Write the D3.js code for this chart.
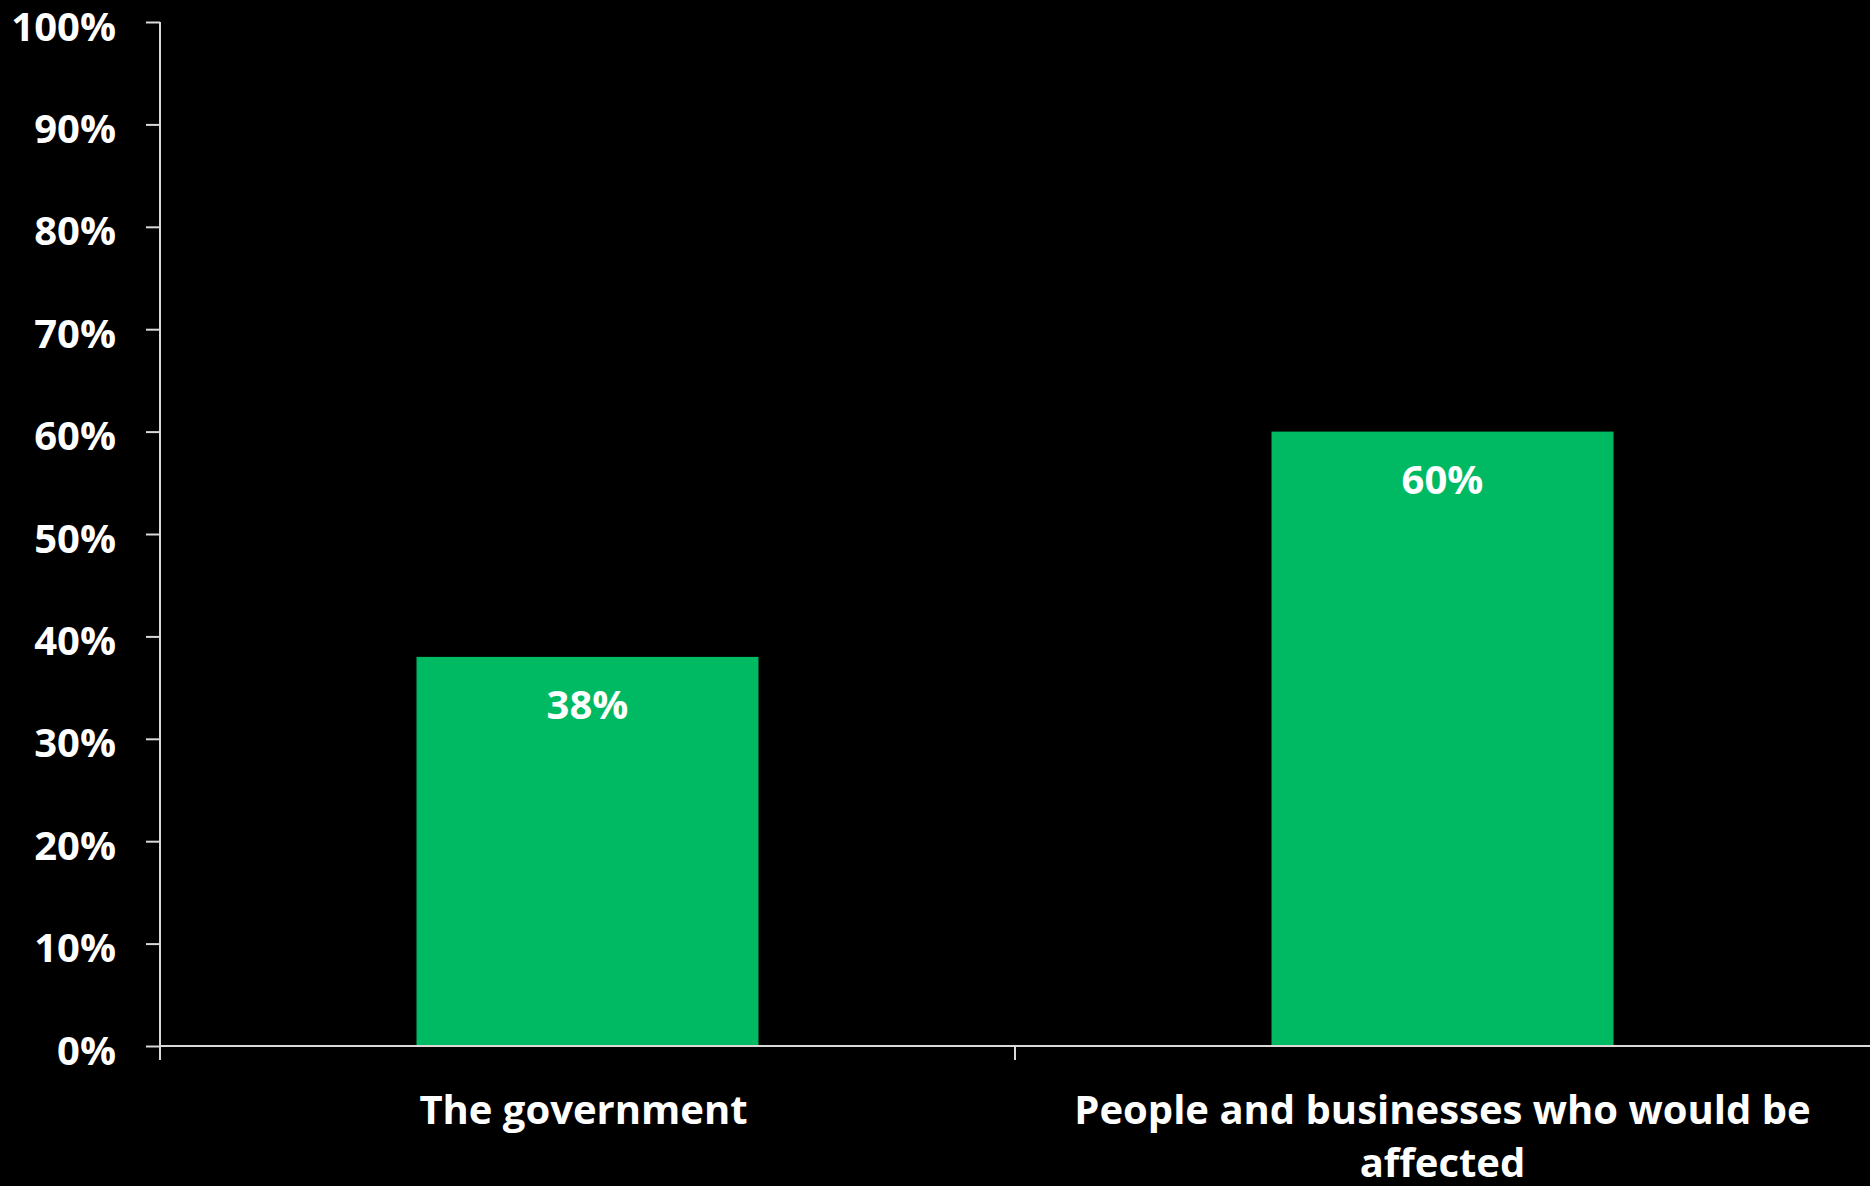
<!DOCTYPE html>
<html><head><meta charset="utf-8">
<script src="https://cdn.jsdelivr.net/npm/d3@7"></script>
<style>
html,body{margin:0;padding:0;background:#000;}
svg{display:block;}
text{font-family:"Open Sans",sans-serif;font-weight:700;fill:#fff;}
</style></head>
<body>
<script>
const categories = ["The government", "People and businesses who would be affected"];
const categoryLines = [["The government"], ["People and businesses who would be", "affected"]];
const values = [0.38, 0.60];
const yTicks = [0,0.1,0.2,0.3,0.4,0.5,0.6,0.7,0.8,0.9,1.0];

const W = 1870, H = 1186;
const m = {left:160, right:0, top:22, bottom:140};
const svg = d3.select("body").append("svg").attr("width",W).attr("height",H).style("background","#000");

const x = d3.scaleBand().domain(categories).range([m.left, W - m.right]).paddingInner(0.6).paddingOuter(0.3);
const y = d3.scaleLinear().domain([0,1]).range([H - m.bottom, m.top]);

// bars
svg.selectAll("rect.bar").data(categories).join("rect")
  .attr("class","bar")
  .attr("x", d => x(d)).attr("width", x.bandwidth())
  .attr("y", (d,i) => y(values[i])).attr("height", (d,i) => y(0) - y(values[i]))
  .attr("fill","#00BA63");

// value labels
svg.selectAll("text.val").data(categories).join("text")
  .attr("class","val")
  .attr("x", d => x(d) + x.bandwidth()/2)
  .attr("y", (d,i) => y(values[i]) + 62)
  .attr("text-anchor","middle")
  .style("font-size","40px")
  .text((d,i) => d3.format(".0%")(values[i]));

// y axis
const yAxis = d3.axisLeft(y).tickValues(yTicks).tickFormat(d3.format(".0%")).tickSize(14).tickPadding(30);
const gy = svg.append("g").attr("transform",`translate(${m.left},0)`).call(yAxis);
gy.select(".domain").remove();
gy.selectAll(".tick line").attr("stroke","#d9d9d9").attr("stroke-width",2);
gy.selectAll(".tick text").attr("fill","#fff").style("font-size","40px").style("font-family","'Open Sans',sans-serif").style("font-weight","700").attr("dy","0.45em");
svg.append("line").attr("x1",m.left).attr("x2",m.left).attr("y1",y(1)).attr("y2",y(0)+14)
  .attr("stroke","#d9d9d9").attr("stroke-width",2);

// x axis baseline
svg.append("line").attr("x1",m.left).attr("x2",W).attr("y1",y(0)).attr("y2",y(0))
  .attr("stroke","#d9d9d9").attr("stroke-width",2);
// category separator ticks
const step = x.step();
const seps = categories.slice(1).map(c => x(c) - step*x.paddingInner()/2);
svg.selectAll("line.sep").data(seps).join("line").attr("class","sep")
  .attr("x1",d=>d).attr("x2",d=>d).attr("y1",y(0)).attr("y2",y(0)+14)
  .attr("stroke","#d9d9d9").attr("stroke-width",2);

// category labels
categories.forEach((c,i) => {
  const cx = x(c) + x.bandwidth()/2 - (i===0 ? 4 : 0);
  const t = svg.append("text").attr("text-anchor","middle")
    .attr("x", cx).attr("y", 1124)
    .style("font-size","40px");
  categoryLines[i].forEach((ln,j) => {
    t.append("tspan").attr("x", cx).attr("dy", j===0 ? 0 : 53).text(ln);
  });
});
</script>
</body></html>
